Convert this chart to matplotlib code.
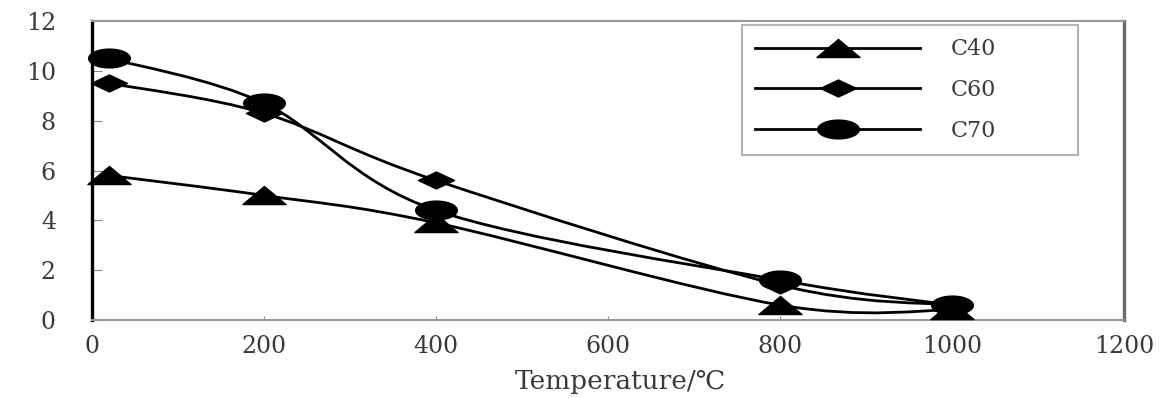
import matplotlib
matplotlib.use("Agg")
import matplotlib.pyplot as plt
from matplotlib.path import Path
from matplotlib.patches import PathPatch
from matplotlib.lines import Line2D
import numpy as np

plt.rcParams['font.family'] = ['DejaVu Serif', 'DejaVu Sans']

# ---- data ----
temperature = [20, 200, 400, 800, 1000]
c40 = [5.8, 5.0, 3.9, 0.6, 0.4]
c60 = [9.5, 8.3, 5.6, 1.4, 0.6]
c70 = [10.5, 8.7, 4.4, 1.6, 0.6]
series_names = ["C40", "C60", "C70"]
x_ticks = [0, 200, 400, 600, 800, 1000, 1200]
y_ticks = [0, 2, 4, 6, 8, 10, 12]
x_label = "Temperature/\u2103"

# ---- stretched marker shapes ----
tri = Path([(-1, -0.42), (1, -0.42), (0, 0.42), (-1, -0.42)],
           [Path.MOVETO, Path.LINETO, Path.LINETO, Path.CLOSEPOLY])
dia = Path([(-1, 0), (0, 0.47), (1, 0), (0, -0.47), (-1, 0)],
           [Path.MOVETO, Path.LINETO, Path.LINETO, Path.LINETO, Path.CLOSEPOLY])
t = np.linspace(0, 2 * np.pi, 60)
ell = Path(np.column_stack([np.cos(t), 0.45 * np.sin(t)]))
markers = [(tri, 31), (dia, 26), (ell, 30)]

text_color = "#3a3a3a"
fig = plt.figure(figsize=(11.72, 3.98), dpi=100)
ax = fig.add_axes([92 / 1172, 1 - 320 / 398, 1032 / 1172, 299 / 398])


def smooth_path(xs, ys):
    P = np.column_stack([xs, ys]).astype(float)
    n = len(P)
    verts = [P[0]]
    codes = [Path.MOVETO]
    for i in range(n - 1):
        p_prev = P[i - 1] if i > 0 else P[i]
        p_next2 = P[i + 2] if i + 2 < n else P[i + 1]
        c1 = P[i] + (P[i + 1] - p_prev) / 6.0
        c2 = P[i + 1] - (p_next2 - P[i]) / 6.0
        verts += [c1, c2, P[i + 1]]
        codes += [Path.CURVE4] * 3
    return Path(verts, codes)


handles = []
for ys, name, (mk, ms) in zip([c40, c60, c70], series_names, markers):
    patch = PathPatch(smooth_path(temperature, ys), fill=False,
                      edgecolor="black", lw=2.0, zorder=3)
    ax.add_patch(patch)
    ax.plot(temperature, ys, linestyle="none", marker=mk, markersize=ms,
            color="black", clip_on=False, zorder=4)
    handles.append(Line2D([], [], color="black", lw=2.0, marker=mk,
                          markersize=ms, label=name))

ax.set_xlim(0, 1200)
ax.set_ylim(0, 12)
ax.set_xticks(x_ticks)
ax.set_yticks(y_ticks)
ax.tick_params(axis="both", direction="in", colors="#888888",
               labelcolor=text_color, labelsize=17)
ax.tick_params(axis="y", length=7, pad=26)
ax.tick_params(axis="x", length=3, pad=11)

ax.spines["left"].set_color("black")
ax.spines["left"].set_linewidth(2.4)
ax.spines["right"].set_color("#6a6a6a")
ax.spines["right"].set_linewidth(2.4)
ax.spines["top"].set_color("#999999")
ax.spines["top"].set_linewidth(1.5)
ax.spines["bottom"].set_color("#999999")
ax.spines["bottom"].set_linewidth(1.5)

ax.set_xlabel(x_label, fontsize=19, color=text_color, va="center")
ax.xaxis.set_label_coords(0.512, -(382 - 320) / 299)

leg = ax.legend(handles=handles, loc="upper left",
                bbox_to_anchor=(742 / 1172, 1 - 152 / 398, 336 / 1172, 127 / 398),
                bbox_transform=fig.transFigure, mode="expand",
                fontsize=16, handlelength=7.4, handletextpad=1.4,
                labelspacing=0.85, borderpad=0.6, borderaxespad=0,
                fancybox=False, frameon=True)
leg.get_frame().set_edgecolor("#a0a0a0")
leg.get_frame().set_linewidth(1.5)
for txt in leg.get_texts():
    txt.set_color(text_color)

fig.savefig("out.png", dpi=100, facecolor="white")
